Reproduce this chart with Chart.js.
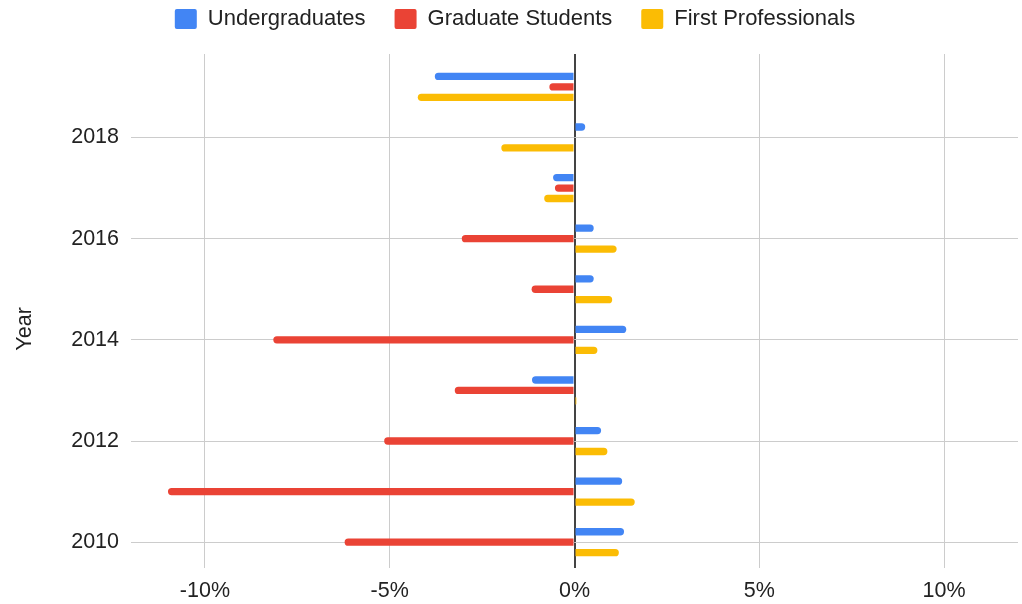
<!DOCTYPE html>
<html>
<head>
<meta charset="utf-8">
<title>Enrollment change by year</title>
<script src="https://cdn.jsdelivr.net/npm/chart.js@4"></script>
<style>
    html, body { margin: 0; padding: 0; background: #fff; }
    #wrap { width: 1022px; height: 604px; }
</style>
</head>
<body>
<div id="wrap"><canvas id="chart"></canvas></div>
<script>
// yearly percent change, one array per student group
const years = [2010, 2011, 2012, 2013, 2014, 2015, 2016, 2017, 2018, 2019];
const undergrad = [1.34, 1.29, 0.72, -1.15, 1.40, 0.52, 0.52, -0.58, 0.29, -3.78];
const graduate = [-6.22, -11.0, -5.15, -3.24, -8.15, -1.16, -3.05, -0.53, 0, -0.68];
const firstProf = [1.20, 1.63, 0.89, 0.05, 0.62, 1.02, 1.14, -0.82, -1.98, -4.24];

const yearTicks = [2010, 2012, 2014, 2016, 2018];
const pctTicks = [-10, -5, 0, 5, 10];

const FONT = "'Liberation Sans', Arial, sans-serif";
const TEXT = '#222222';

const series = (label, values, color) => ({
    label,
    data: years.map((y, i) => ({ x: values[i], y })),
    backgroundColor: color,
    borderRadius: 4,
    categoryPercentage: 0.62,
    barPercentage: 0.7
});

new Chart(document.getElementById('chart'), {
    type: 'bar',
    data: {
        datasets: [
            series('Undergraduates', undergrad, '#4285F4'),
            series('Graduate Students', graduate, '#EA4335'),
            series('First Professionals', firstProf, '#FBBC04')
        ]
    },
    options: {
        indexAxis: 'y',
        responsive: true,
        maintainAspectRatio: false,
        animation: false,
        layout: { padding: { top: -21, left: 12, right: 4, bottom: 0 } },
        plugins: {
            legend: {
                position: 'top',
                labels: {
                    font: { family: FONT, size: 22 },
                    color: TEXT,
                    boxWidth: 22,
                    boxHeight: 20,
                    padding: 29,
                    useBorderRadius: true,
                    borderRadius: 2
                }
            },
            // empty title used as a gap between legend and plot
            title: {
                display: true,
                text: '',
                weight: 500,
                padding: 1,
                font: { size: 10 }
            },
            tooltip: { enabled: false }
        },
        scales: {
            x: {
                type: 'linear',
                min: -12,
                max: 12,
                afterFit: s => { s.height = 36; },
                afterBuildTicks: s => { s.ticks = pctTicks.map(v => ({ value: v })); },
                border: { display: false },
                grid: {
                    drawTicks: false,
                    color: c => c.tick && c.tick.value === 0 ? '#444444' : '#cccccc',
                    lineWidth: c => c.tick && c.tick.value === 0 ? 2 : 1
                },
                ticks: {
                    padding: 10,
                    font: { family: FONT, size: 21.5 },
                    color: TEXT,
                    callback: v => v + '%'
                }
            },
            y: {
                type: 'linear',
                min: 2009.49,
                max: 2019.65,
                offset: false,
                afterFit: s => { s.width = 119; },
                afterBuildTicks: s => { s.ticks = yearTicks.map(v => ({ value: v })); },
                border: { display: false },
                grid: { drawTicks: false, offset: false, color: '#cccccc' },
                ticks: {
                    padding: 12,
                    font: { family: FONT, size: 21.5 },
                    color: TEXT,
                    callback: v => String(v)
                },
                title: {
                    display: true,
                    // trailing spaces push the rotated label a little lower
                    text: 'Year      ',
                    padding: { top: 0, bottom: 0 },
                    font: { family: FONT, size: 21.5 },
                    color: TEXT
                }
            }
        }
    }
});
</script>
</body>
</html>
